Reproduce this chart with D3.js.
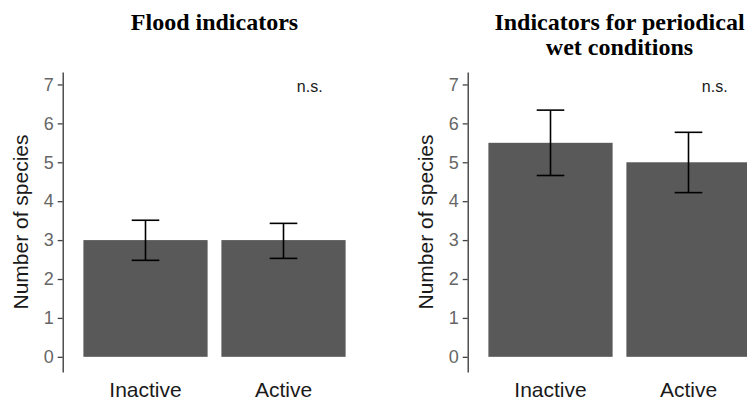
<!DOCTYPE html>
<html>
<head>
<meta charset="utf-8">
<script src="https://cdn.jsdelivr.net/npm/d3@7"></script>
<style>
  body { margin: 0; background: #fff; }
  svg { display: block; }
</style>
</head>
<body>
<div id="chart"></div>
<script>
// data
const groups = ["Inactive", "Active"];

const floodMean = [3.0, 3.0];
const floodLow = [2.48, 2.53];
const floodHigh = [3.51, 3.43];

const wetMean = [5.5, 5.0];
const wetLow = [4.66, 4.22];
const wetHigh = [6.34, 5.77];

const yTicks = [0, 1, 2, 3, 4, 5, 6, 7];
const yLabel = "Number of species";
const sigLabel = "n.s.";

const width = 747;
const height = 401;

const sans = "Liberation Sans, Arial, sans-serif";
const serif = "Liberation Serif, Times New Roman, serif";

const svg = d3.select("#chart")
    .append("svg")
    .attr("width", width)
    .attr("height", height);

// one panel = one ggplot-like bar chart with error bars
function drawPanel(left, titleLines, mean, low, high) {
    const panelW = 303.6;
    const top = 72, bottom = 372;

    const data = groups.map((g, i) => ({ group: g, mean: mean[i], low: low[i], high: high[i] }));

    const x = d3.scaleBand()
        .domain(groups)
        .range([left, left + panelW])
        .paddingInner(0.1)
        .paddingOuter(0.15);

    // continuous version of the discrete axis (1, 2 = group centres)
    const xc = d3.scaleLinear()
        .domain([0.4, 2.6])
        .range([left, left + panelW]);

    const y = d3.scaleLinear()
        .domain([-0.39, 7.32])
        .range([bottom, top]);

    const g = svg.append("g");

    // Title
    const title = g.append("text")
        .attr("x", left + panelW / 2)
        .attr("y", 30)
        .attr("text-anchor", "middle")
        .attr("font-family", serif)
        .attr("font-weight", "bold")
        .attr("font-size", 24)
        .attr("fill", "#000");
    titleLines.forEach((t, i) => {
        title.append("tspan")
            .attr("x", left + panelW / 2)
            .attr("dy", i === 0 ? 0 : 24.5)
            .text(t);
    });

    // Bars
    g.selectAll("rect.bar")
        .data(data)
        .enter()
        .append("rect")
        .attr("class", "bar")
        .attr("x", d => x(d.group))
        .attr("y", d => y(d.mean))
        .attr("width", x.bandwidth())
        .attr("height", d => y(0) - y(d.mean))
        .attr("fill", "#595959");

    // Error bars
    const capW = x.step() * 0.2;
    const eb = g.selectAll("g.err")
        .data(data)
        .enter()
        .append("g")
        .attr("class", "err")
        .attr("stroke", "#000")
        .attr("stroke-width", 1.6)
        .attr("fill", "none");

    eb.append("line")
        .attr("x1", d => x(d.group) + x.bandwidth() / 2)
        .attr("x2", d => x(d.group) + x.bandwidth() / 2)
        .attr("y1", d => y(d.low))
        .attr("y2", d => y(d.high));
    eb.append("line")
        .attr("x1", d => x(d.group) + x.bandwidth() / 2 - capW / 2)
        .attr("x2", d => x(d.group) + x.bandwidth() / 2 + capW / 2)
        .attr("y1", d => y(d.high))
        .attr("y2", d => y(d.high));
    eb.append("line")
        .attr("x1", d => x(d.group) + x.bandwidth() / 2 - capW / 2)
        .attr("x2", d => x(d.group) + x.bandwidth() / 2 + capW / 2)
        .attr("y1", d => y(d.low))
        .attr("y2", d => y(d.low));

    // Y axis
    const yAxis = g.append("g")
        .attr("transform", `translate(${left},0)`)
        .call(d3.axisLeft(y).tickValues(yTicks).tickSize(5).tickSizeOuter(0).tickPadding(4));
    yAxis.attr("font-family", sans).attr("font-size", 18);
    yAxis.select(".domain").attr("stroke", "#333").attr("stroke-width", 1.3);
    yAxis.selectAll(".tick line").attr("stroke", "#444").attr("stroke-width", 1.3);
    yAxis.selectAll(".tick text").attr("fill", "#666");

    // X axis (labels only)
    const xAxis = g.append("g")
        .attr("transform", `translate(0,${bottom})`)
        .call(d3.axisBottom(x).tickSize(0).tickPadding(10));
    xAxis.attr("font-family", sans).attr("font-size", 21);
    xAxis.select(".domain").remove();
    xAxis.selectAll(".tick text").attr("fill", "#1a1a1a");

    // Y label
    g.append("text")
        .attr("transform", `translate(${left - 35},${(top + bottom) / 2}) rotate(-90)`)
        .attr("text-anchor", "middle")
        .attr("fill", "#1a1a1a")
        .attr("font-family", sans)
        .attr("font-size", 21)
        .text(yLabel);

    // significance label
    g.append("text")
        .attr("x", xc(2.19))
        .attr("y", y(7))
        .attr("dy", "0.45em")
        .attr("text-anchor", "middle")
        .attr("fill", "#1a1a1a")
        .attr("font-family", sans)
        .attr("font-size", 16)
        .text(sigLabel);
}

drawPanel(62.7, ["Flood indicators"], floodMean, floodLow, floodHigh);
drawPanel(467.7, ["Indicators for periodical", "wet conditions"], wetMean, wetLow, wetHigh);
</script>
</body>
</html>
